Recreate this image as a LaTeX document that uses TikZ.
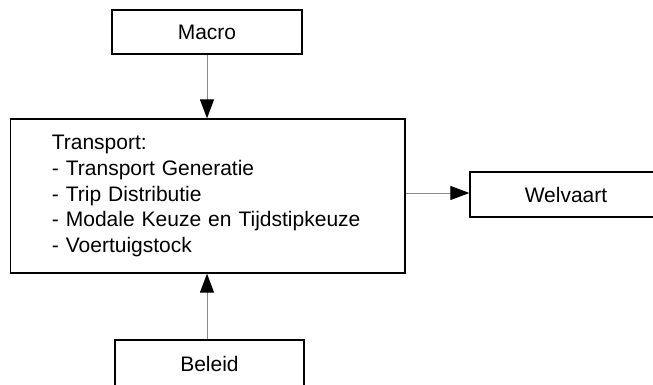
\documentclass[tikz,border=0pt]{standalone}
\usepackage{fontspec}
\setmainfont{Liberation Sans}
\usetikzlibrary{arrows.meta}
\tikzset{
  box/.style={draw=black, line width=1.3pt, rectangle, inner sep=0pt, font=\fontsize{21}{25.9}\selectfont},
  arr/.style={draw=black!45, line width=1pt, -{Triangle[length=19pt,width=14pt,color=black]}}
}
\begin{document}
\begin{tikzpicture}[x=1pt,y=-1pt]
\useasboundingbox (0,0) rectangle (653,385);
\clip (0,0) rectangle (653,385);
\fill[white] (0,0) rectangle (653,385);
\node[box, minimum width=190, minimum height=44] (macro) at (207,32) {Macro};
\node[box, minimum width=394.3, minimum height=154, text width=312, inner xsep=41, align=left] (transport) at (207.85,196)
  {Transport:\\- Transport Generatie\\- Trip Distributie\\- Modale Keuze en Tijdstipkeuze\\- Voertuigstock};
\node[box, minimum width=192, minimum height=45] (welvaart) at (566,194.5) {Welvaart};
\node[box, minimum width=189, minimum height=48] (beleid) at (209.5,364) {Beleid};
\draw[arr] (macro.south) -- (macro.south |- transport.north);
\draw[arr] (beleid.north -| macro.south) -- (macro.south |- transport.south);
\draw[arr] (transport.east |- 0,193) -- (welvaart.west |- 0,193);
\end{tikzpicture}
\end{document}
